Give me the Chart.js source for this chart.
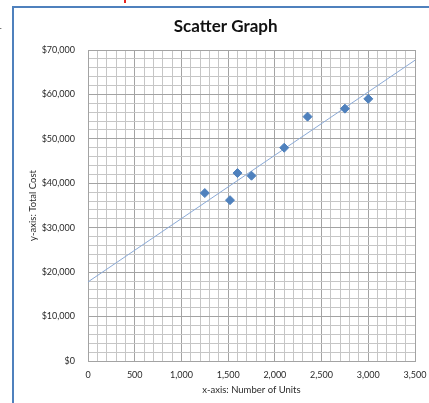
<!DOCTYPE html>
<html>
<head>
<meta charset="utf-8">
<title>Scatter Graph</title>
<script src="https://cdn.jsdelivr.net/npm/chart.js@4"></script>
<style>
  html, body { margin: 0; padding: 0; background: #fff; }
  #wrap { position: relative; width: 429px; height: 403px; overflow: hidden; }
  #frame {
    position: absolute; left: 12px; top: 6px; width: 500px; height: 500px;
    border-left: 2px solid #4f81bd; border-top: 2px solid #4f81bd;
    pointer-events: none;
  }
  #redmark { position: absolute; left: 124px; top: 0; width: 2px; height: 3px; background: #e8231e; }
  #edge { position: absolute; left: -3px; top: 24px; font: italic 12px 'Liberation Sans', sans-serif; color: #555; }
  canvas { position: absolute; left: 0; top: 0; }
</style>
</head>
<body>
<div id="wrap">
  <canvas id="scatterChart" width="429" height="403"></canvas>
  <div id="frame"></div>
  <div id="redmark"></div>
  <div id="edge">r</div>
</div>
<script>
// Data
const units = [1250, 1520, 1600, 1750, 2100, 2350, 2750, 3000];
const totalCost = [37800, 36200, 42300, 41700, 48000, 55000, 56800, 59000];
// Trendline end points
const trendUnits = [0, 3500];
const trendCost = [17800, 67700];

const blue = '#4f81bd';
const trendBlue = '#8aa9d6';
const gridMinor = '#c6c6c6';
const gridMajor = '#a3a3a3';
const labelColor = '#2a2a2a';
const fontFamily = "'Lato', 'Liberation Sans', sans-serif";

document.addEventListener('DOMContentLoaded', () => {
  const ctx = document.getElementById('scatterChart');

  new Chart(ctx, {
    type: 'scatter',
    data: {
      datasets: [
        {
          label: 'Total Cost',
          data: units.map((x, i) => ({ x, y: totalCost[i] })),
          backgroundColor: blue,
          borderColor: blue,
          pointStyle: 'rectRot',
          pointRadius: 4.5,
          order: 1,
        },
        {
          label: 'Trend',
          data: trendUnits.map((x, i) => ({ x, y: trendCost[i] })),
          showLine: true,
          borderColor: trendBlue,
          borderWidth: 1,
          pointRadius: 0,
          order: 2,
        }
      ]
    },
    options: {
      responsive: false,
      animation: false,
      layout: { padding: { top: 0, right: 14, bottom: 0, left: 36.4 } },
      plugins: {
        legend: { display: false },
        tooltip: { enabled: false },
        title: {
          display: true,
          text: 'Scatter Graph',
          color: '#111',
          font: { family: fontFamily, size: 17, weight: 'bold', lineHeight: 1.2 },
          padding: { top: 16, bottom: 13.6 },
        }
      },
      scales: {
        x: {
          type: 'linear',
          min: 0,
          max: 3500,
          afterFit: s => { s.height = 42; s.paddingLeft = 0; s.paddingRight = 0; },
          ticks: {
            stepSize: 100,
            autoSkip: false,
            maxRotation: 0,
            padding: 9,
            color: labelColor,
            font: { family: fontFamily, size: 9 },
            callback: v => v % 500 === 0 ? v.toLocaleString('en-US') : '',
          },
          grid: {
            drawTicks: false,
            color: c => (c.tick && c.tick.value % 500 === 0) ? gridMajor : gridMinor,
          },
          border: { color: gridMajor },
          title: {
            display: true,
            text: 'x-axis: Number of Units',
            color: labelColor,
            font: { family: fontFamily, size: 9.5 },
            padding: { top: 0, bottom: 7 },
          }
        },
        y: {
          type: 'linear',
          min: 0,
          max: 70000,
          afterFit: s => { s.width = 51.6; s.paddingTop = 0; s.paddingBottom = 0; },
          ticks: {
            stepSize: 2000,
            autoSkip: false,
            padding: 13,
            color: labelColor,
            font: { family: fontFamily, size: 9 },
            callback: v => v % 10000 === 0 ? '$' + v.toLocaleString('en-US') : '',
          },
          grid: {
            drawTicks: false,
            color: c => (c.tick && c.tick.value % 10000 === 0) ? gridMajor : gridMinor,
          },
          border: { color: gridMajor },
          title: {
            display: true,
            text: 'y-axis: Total Cost',
            color: labelColor,
            font: { family: fontFamily, size: 9.5 },
            padding: { top: -8.8, bottom: 0 },
          }
        }
      }
    }
  });
});
</script>
</body>
</html>
